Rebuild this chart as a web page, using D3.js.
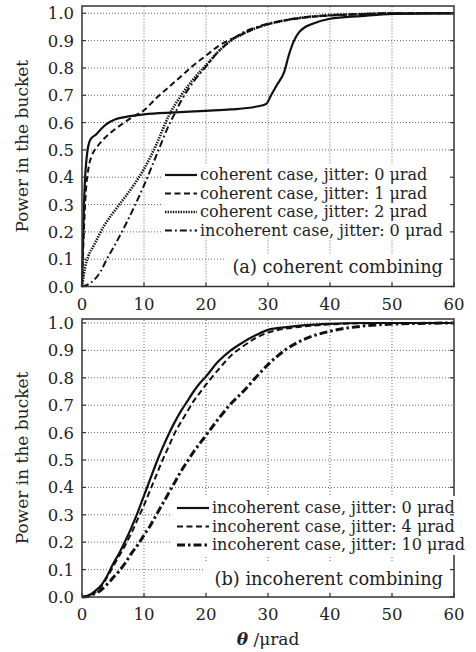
<!DOCTYPE html>
<html>
<head>
<meta charset="utf-8">
<script src="https://cdn.jsdelivr.net/npm/d3@7"></script>
<style>
  body { margin: 0; background: #fff; }
  svg { display: block; }
  text { font-family: "DejaVu Serif", serif; fill: #222; }
</style>
</head>
<body>
<svg width="476" height="652"></svg>
<script>
// ---- data ----
var xTicks = [0, 10, 20, 30, 40, 50, 60]
var yTicks = [0, 0.1, 0.2, 0.3, 0.4, 0.5, 0.6, 0.7, 0.8, 0.9, 1.0]

// (a) coherent combining
var thetaCoh0 = [0, 0.15, 0.3, 0.5, 0.7, 0.9, 1.2, 1.6, 2.2, 3, 4, 5.4, 7.3, 10, 15, 20, 24, 28, 29.7, 30.5, 31.5, 32.6, 33.4, 34.2, 35, 36, 37, 40, 45, 50, 60]
var pibCoh0 = [0, 0.15, 0.28, 0.4, 0.46, 0.5, 0.53, 0.545, 0.555, 0.575, 0.595, 0.612, 0.622, 0.63, 0.637, 0.643, 0.648, 0.658, 0.668, 0.70, 0.74, 0.785, 0.85, 0.9, 0.93, 0.95, 0.96, 0.98, 0.99, 0.998, 1.0]

var thetaCoh1 = [0, 0.3, 0.6, 1.1, 1.6, 2.4, 3.5, 5, 6.5, 8, 10, 12, 14, 16, 18, 20, 22, 24, 26, 28, 30, 33, 36, 40, 45, 50, 60]
var pibCoh1 = [0, 0.2, 0.34, 0.44, 0.48, 0.51, 0.54, 0.57, 0.595, 0.618, 0.645, 0.69, 0.73, 0.77, 0.81, 0.845, 0.88, 0.905, 0.925, 0.945, 0.96, 0.975, 0.985, 0.992, 0.997, 1.0, 1.0]

var thetaCoh2 = [0, 0.5, 1, 1.9, 3.5, 5.7, 8, 10, 12, 14, 16, 18, 20, 22, 24, 26, 28, 30, 33, 36, 40, 45, 50, 60]
var pibCoh2 = [0, 0.07, 0.11, 0.15, 0.22, 0.29, 0.36, 0.43, 0.52, 0.625, 0.70, 0.76, 0.81, 0.86, 0.9, 0.925, 0.945, 0.96, 0.975, 0.985, 0.993, 0.997, 1.0, 1.0]

var thetaInc0a = [0, 1, 2, 3, 4, 5.5, 7, 8.5, 10, 12, 14, 15, 16, 18, 20, 22, 24, 26, 28, 30, 33, 36, 40, 45, 50, 60]
var pibInc0a = [0, 0.008, 0.025, 0.055, 0.10, 0.16, 0.225, 0.295, 0.37, 0.48, 0.59, 0.635, 0.68, 0.75, 0.805, 0.86, 0.9, 0.93, 0.948, 0.962, 0.976, 0.986, 0.993, 0.997, 1.0, 1.0]

// (b) incoherent combining
var thetaInc = [0, 1, 2, 3, 4, 5, 6, 7, 8, 9, 10, 11, 12, 13, 14, 15, 16, 17, 18, 19, 20, 22, 24, 26, 28, 30, 33, 36, 40, 45, 50, 60]
var pibInc0 = [0, 0.005, 0.02, 0.04, 0.075, 0.12, 0.16, 0.205, 0.255, 0.31, 0.37, 0.43, 0.49, 0.545, 0.595, 0.64, 0.68, 0.715, 0.75, 0.78, 0.805, 0.86, 0.9, 0.93, 0.955, 0.975, 0.985, 0.992, 0.997, 1, 1, 1]
var pibInc4 = [0, 0.004, 0.015, 0.035, 0.07, 0.11, 0.15, 0.19, 0.235, 0.285, 0.335, 0.39, 0.445, 0.5, 0.55, 0.6, 0.64, 0.677, 0.715, 0.745, 0.775, 0.83, 0.88, 0.915, 0.945, 0.965, 0.98, 0.988, 0.995, 0.999, 1, 1]
var pibInc10 = [0, 0.003, 0.012, 0.024, 0.045, 0.07, 0.095, 0.125, 0.16, 0.19, 0.226, 0.26, 0.3, 0.34, 0.38, 0.42, 0.46, 0.495, 0.53, 0.56, 0.59, 0.65, 0.705, 0.75, 0.8, 0.848, 0.905, 0.942, 0.97, 0.988, 0.996, 1.0]

var labelsA = ["coherent case, jitter: 0 \u03bcrad", "coherent case, jitter: 1 \u03bcrad", "coherent case, jitter: 2 \u03bcrad", "incoherent case, jitter: 0 \u03bcrad"]
var labelsB = ["incoherent case, jitter: 0 \u03bcrad", "incoherent case, jitter: 4 \u03bcrad", "incoherent case, jitter: 10 \u03bcrad"]

var solid = { dash: null, width: 2.2 },
	dashed = { dash: "6,3.5", width: 2 },
	dotted = { dash: "1.4,1.2", width: 2.6 },
	dashdot = { dash: "7,3,1.8,3", width: 2 },
	dashdotBold = { dash: "8,3,2.5,3", width: 3 }

var svg = d3.select("svg")
var left = 82, right = 454

function drawPanel(p) {
	var x = d3.scaleLinear().domain([0, 60]).range([left, right])
	var y = d3.scaleLinear().domain([0, 1]).range([p.y0, p.y1])
	var g = svg.append("g")

	// grid
	g.selectAll(".gx").data(xTicks.slice(1, -1)).enter().append("line")
		.attr("x1", d => x(d)).attr("x2", d => x(d))
		.attr("y1", p.y0).attr("y2", p.top)
		.attr("stroke", "#666").attr("stroke-width", 1).attr("stroke-dasharray", "1,2")
	g.selectAll(".gy").data(yTicks.slice(1)).enter().append("line")
		.attr("x1", left).attr("x2", right)
		.attr("y1", d => y(d)).attr("y2", d => y(d))
		.attr("stroke", "#666").attr("stroke-width", 1).attr("stroke-dasharray", "1,2")

	// white boxes behind legend and panel label
	g.append("rect").attr("x", p.legBox[0]).attr("y", p.legBox[1])
		.attr("width", p.legBox[2]).attr("height", p.legBox[3]).attr("fill", "#fff")
	g.append("rect").attr("x", p.labBox[0]).attr("y", p.labBox[1])
		.attr("width", p.labBox[2]).attr("height", p.labBox[3]).attr("fill", "#fff")

	// curves
	var line = d3.line().curve(d3.curveMonotoneX)
	p.series.forEach(function (s) {
		var pts = s.t.map((t, i) => [x(t), y(s.v[i])])
		g.append("path").attr("d", line(pts))
			.attr("fill", "none").attr("stroke", "#111")
			.attr("stroke-width", s.style.width)
			.attr("stroke-dasharray", s.style.dash)
			.attr("stroke-linejoin", "round")
	})

	// frame + inner ticks
	var frame = g.append("g")
	frame.append("rect").attr("x", left).attr("y", p.top)
		.attr("width", right - left).attr("height", p.y0 - p.top)
		.attr("fill", "none").attr("stroke", "#333").attr("stroke-width", 1.5)
	if (p.frameGap) {
		frame.append("line").attr("x1", right).attr("x2", right)
			.attr("y1", p.frameGap[0]).attr("y2", p.frameGap[1])
			.attr("stroke", "#fff").attr("stroke-width", 3)
	}
	frame.selectAll(".tb").data(xTicks).enter().append("line")
		.attr("x1", d => x(d)).attr("x2", d => x(d))
		.attr("y1", p.y0).attr("y2", p.y0 - 4)
		.attr("stroke", "#333").attr("stroke-width", 1.2)
	frame.selectAll(".tl").data(yTicks).enter().append("line")
		.attr("x1", left).attr("x2", left + 4)
		.attr("y1", d => y(d)).attr("y2", d => y(d))
		.attr("stroke", "#333").attr("stroke-width", 1.2)
	frame.selectAll(".tr").data(yTicks.filter(d => !p.noRightTick || d < p.noRightTick[0] || d > p.noRightTick[1])).enter().append("line")
		.attr("x1", right).attr("x2", right - 4)
		.attr("y1", d => y(d)).attr("y2", d => y(d))
		.attr("stroke", "#333").attr("stroke-width", 1.2)

	// tick labels
	g.selectAll(".xl").data(xTicks).enter().append("text")
		.attr("x", d => x(d)).attr("y", p.y0 + 23)
		.attr("text-anchor", "middle").attr("font-size", 16.5)
		.text(d => d)
	g.selectAll(".yl").data(yTicks).enter().append("text")
		.attr("x", left - 8).attr("y", d => y(d) + 6)
		.attr("text-anchor", "end").attr("font-size", 16.5)
		.text(d => d3.format(".1f")(d))

	g.append("text")
		.attr("transform", "translate(28," + ((p.top + p.y0) / 2) + ") rotate(-90)")
		.attr("text-anchor", "middle").attr("font-size", 17)
		.text("Power in the bucket")

	// legend
	p.series.forEach(function (s, i) {
		var ly = p.legY + i * 18.5
		g.append("line").attr("x1", p.legX).attr("x2", p.legX + 32)
			.attr("y1", ly).attr("y2", ly)
			.attr("stroke", "#111").attr("stroke-width", s.style.width)
			.attr("stroke-dasharray", s.style.dash)
		g.append("text").attr("x", p.legX + 35).attr("y", ly + 5)
			.attr("font-size", 16).text(p.labels[i])
	})

	g.append("text").attr("x", 443).attr("y", p.labY)
		.attr("text-anchor", "end").attr("font-size", 17.8)
		.text(p.title)
}

drawPanel({
	top: 6, y0: 286.5, y1: 13.3,
	series: [
		{ t: thetaCoh0, v: pibCoh0, style: solid },
		{ t: thetaCoh1, v: pibCoh1, style: dashed },
		{ t: thetaCoh2, v: pibCoh2, style: dotted },
		{ t: thetaInc0a, v: pibInc0a, style: dashdot }
	],
	labels: labelsA,
	legX: 165, legY: 175,
	legBox: [162, 164, 290, 74],
	labBox: [224, 254, 228, 26],
	labY: 273,
	title: "(a) coherent combining"
})

drawPanel({
	top: 319, y0: 597, y1: 323,
	series: [
		{ t: thetaInc, v: pibInc0, style: solid },
		{ t: thetaInc, v: pibInc4, style: dashed },
		{ t: thetaInc, v: pibInc10, style: dashdotBold }
	],
	labels: labelsB,
	legX: 177, legY: 508,
	legBox: [172, 496, 304, 59],
	labBox: [204, 563, 248, 28],
	frameGap: [496, 555],
	noRightTick: [0.45, 0.75],
	labY: 585,
	title: "(b) incoherent combining"
})

svg.append("text").attr("x", (left + right) / 2).attr("y", 645)
	.attr("text-anchor", "middle").attr("font-size", 17)
	.html('<tspan font-style="italic" font-weight="bold">\u03b8</tspan> /\u03bcrad')
</script>
</body>
</html>
